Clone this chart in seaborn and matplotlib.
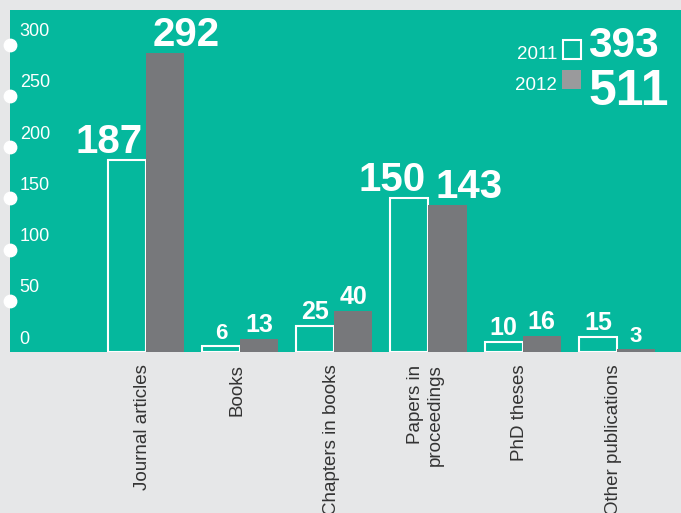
import pandas as pd
import numpy as np
import matplotlib
matplotlib.use("Agg")
import matplotlib.pyplot as plt
import matplotlib.transforms as mtransforms
from matplotlib.patches import Rectangle
import seaborn as sns

plt.rcParams["font.family"] = ["Liberation Sans", "DejaVu Sans"]

# Data
categories = ["Journal articles", "Books", "Chapters in books",
              "Papers in\nproceedings", "PhD theses", "Other publications"]
years = ["2011", "2012"]
values_2011 = [187, 6, 25, 150, 10, 15]
values_2012 = [292, 13, 40, 143, 16, 3]
totals = [393, 511]
yticks = [0, 50, 100, 150, 200, 250, 300]

# Colours
teal = "#05b89d"
grey_bar = "#77787b"
grey_legend = "#9a9a9c"
page = "#e6e7e8"
ink = "#333333"

df = pd.DataFrame({
    "category": categories * 2,
    "year": [years[0]] * len(categories) + [years[1]] * len(categories),
    "value": values_2011 + values_2012,
})

W, H = 681, 513
fig = plt.figure(figsize=(W / 100, H / 100), dpi=100, facecolor=page)
ax = fig.add_axes([10 / W, (H - 352) / H, 1 - 10 / W, 342 / H])

sns.barplot(data=df, x="category", y="value", hue="year",
            palette={years[0]: teal, years[1]: grey_bar},
            width=0.81, gap=0, legend=False, ax=ax, errorbar=None)

ax.set_facecolor(teal)
for s in ax.spines.values():
    s.set_visible(False)
ax.set_xlim(-1.44, 5.68)
ax.set_ylim(0, 333.7)
ax.set_xlabel("")
ax.set_ylabel("")
ax.set_yticks([])

# outlined 2011 bars, solid 2012 bars
for bar in ax.containers[0]:
    bar.set_facecolor(teal)
    bar.set_edgecolor("white")
    bar.set_linewidth(1.5)
for bar in ax.containers[1]:
    bar.set_edgecolor("none")

# value labels
for i, cont in enumerate(ax.containers):
    vals = values_2011 if i == 0 else values_2012
    for bar, v in zip(cont, vals):
        size = 29 if v >= 100 else (18 if v >= 10 else 16)
        top = bar.get_height()
        if v >= 100:
            if i == 0:
                xpos, ha, dx = bar.get_x() + bar.get_width(), "right", -2
            else:
                xpos, ha, dx = bar.get_x(), "left", 5
        else:
            xpos, ha, dx = bar.get_x() + bar.get_width() / 2, "center", 0
        ax.annotate(str(v), (xpos, top), xytext=(dx, 5), textcoords="offset points",
                    ha=ha, va="baseline", color="white", fontsize=size,
                    fontweight="bold")

# x tick labels
ax.set_xticks(range(len(categories)))
ax.set_xticklabels(categories, rotation=90, ha="center", va="top",
                   fontsize=13.5, color=ink, multialignment="right")
ax.tick_params(axis="x", length=0, pad=9)
shift = mtransforms.ScaledTranslation(-3 / 100, 0, fig.dpi_scale_trans)
for lab in ax.get_xticklabels():
    lab.set_transform(lab.get_transform() + shift)

# y labels with white dots on the panel edge
trans = mtransforms.blended_transform_factory(ax.transAxes, ax.transData)
ax.scatter([0] * (len(yticks) - 1), yticks[1:], s=80, color="white",
           transform=trans, clip_on=False, zorder=5)
for t in yticks:
    ax.annotate(str(t), (0, t), xycoords=trans, xytext=(7, 6),
                textcoords="offset points", ha="left", va="baseline",
                color="white", fontsize=13)

# legend with totals
def fx(px):
    return px / W

def fy(py):
    return 1 - py / H

fig.text(fx(557), fy(59), years[0], ha="right", va="baseline", color="white", fontsize=13.5)
fig.text(fx(557), fy(90), years[1], ha="right", va="baseline", color="white", fontsize=13.5)
fig.patches.append(Rectangle((fx(563), fy(59)), 18 / W, 19 / H, transform=fig.transFigure,
                             facecolor="none", edgecolor="white", linewidth=1.5))
fig.patches.append(Rectangle((fx(562), fy(89)), 19 / W, 19 / H, transform=fig.transFigure,
                             facecolor=grey_legend, edgecolor="none"))
fig.text(fx(588), fy(57), str(totals[0]), ha="left", va="baseline", color="white",
         fontsize=30.5, fontweight="bold")
fig.text(fx(588), fy(105), str(totals[1]), ha="left", va="baseline", color="white",
         fontsize=36, fontweight="bold")

fig.savefig("out.png", dpi=100, facecolor=page)
